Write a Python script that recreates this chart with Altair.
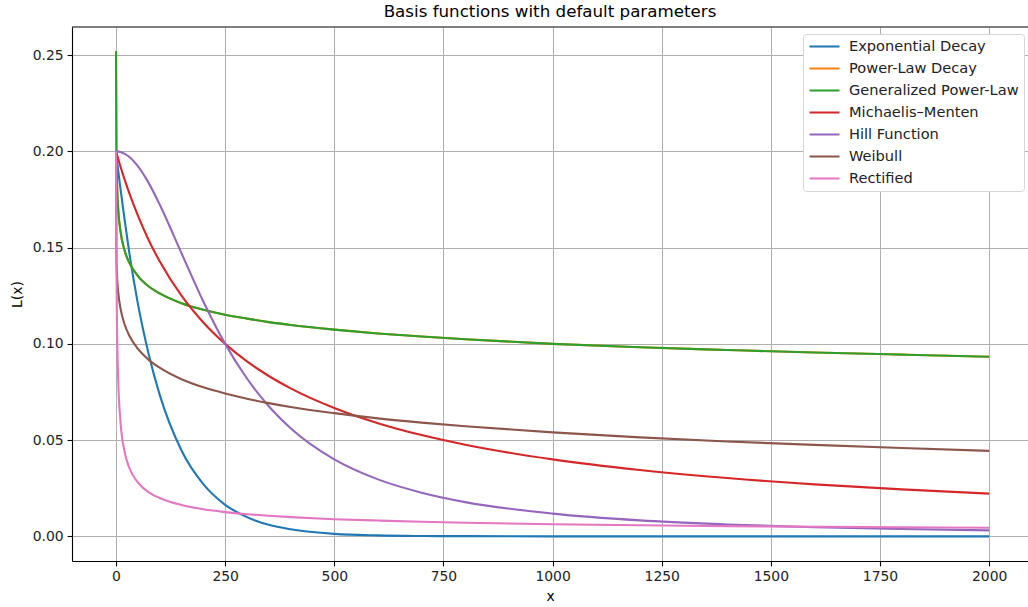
import altair as alt
import pandas as pd

x_vals = [0, 1, 2, 5, 10, 20, 30, 50, 75, 100, 150, 200, 250, 300, 350, 400,
          500, 600, 700, 800, 1000, 1200, 1400, 1600, 1800, 2000]

series_names = ["Exponential Decay", "Power-Law Decay", "Generalized Power-Law",
                "Michaelis\u2013Menten", "Hill Function", "Weibull", "Rectified"]
series_colors = ["#1f77b4", "#ff7f0e", "#2ca02c", "#d62728", "#9467bd", "#8c564b", "#e377c2"]

exp_decay = [0.2, 0.198, 0.196, 0.190, 0.181, 0.164, 0.148, 0.121, 0.0945, 0.0736,
             0.0446, 0.0271, 0.0164, 0.0100, 0.0060, 0.0037, 0.0013, 0.0005, 0.0002,
             0.0001, 0.0, 0.0, 0.0, 0.0, 0.0, 0.0]
power_law = [0.252, 0.2, 0.1866, 0.1702, 0.1589, 0.1482, 0.1424, 0.1353, 0.1298, 0.1262,
             0.1211, 0.1177, 0.1151, 0.1131, 0.1113, 0.1098, 0.1074, 0.1054, 0.1038,
             0.1024, 0.1, 0.0982, 0.0968, 0.0955, 0.0944, 0.0933]
gen_power_law = [0.252, 0.2, 0.1866, 0.1702, 0.1589, 0.1482, 0.1424, 0.1353, 0.1298, 0.1262,
                 0.1211, 0.1177, 0.1151, 0.1131, 0.1113, 0.1098, 0.1074, 0.1054, 0.1038,
                 0.1024, 0.1, 0.0982, 0.0968, 0.0955, 0.0944, 0.0933]
michaelis = [0.2, 0.1992, 0.1984, 0.1961, 0.1923, 0.1852, 0.1786, 0.1667, 0.1538, 0.1429,
             0.125, 0.1111, 0.1, 0.0909, 0.0833, 0.0769, 0.0667, 0.0588, 0.0526, 0.0476,
             0.04, 0.0345, 0.0303, 0.027, 0.0244, 0.0222]
hill = [0.2, 0.2, 0.2, 0.1999, 0.1997, 0.1987, 0.1972, 0.1923, 0.1835, 0.1724,
        0.1471, 0.122, 0.1, 0.082, 0.0676, 0.0562, 0.04, 0.0296, 0.0227, 0.0178,
        0.0118, 0.0083, 0.0062, 0.0047, 0.0038, 0.0031]
weibull = [0.2, 0.144, 0.137, 0.127, 0.1188, 0.1099, 0.1045, 0.0975, 0.0917, 0.0876,
           0.0816, 0.0774, 0.0742, 0.0715, 0.0692, 0.0672, 0.064, 0.0613, 0.0591, 0.0572,
           0.054, 0.0514, 0.0493, 0.0475, 0.0459, 0.0444]
rectified = [0.2, 0.1414, 0.1155, 0.0816, 0.0603, 0.0436, 0.0359, 0.028, 0.0229, 0.0199,
             0.0163, 0.0141, 0.0126, 0.0115, 0.0107, 0.01, 0.0089, 0.0082, 0.0076, 0.0071,
             0.0063, 0.0058, 0.0053, 0.005, 0.0047, 0.0045]

x_ticks = [0, 250, 500, 750, 1000, 1250, 1500, 1750, 2000]
y_ticks = [0.0, 0.05, 0.10, 0.15, 0.20, 0.25]

all_series = [exp_decay, power_law, gen_power_law, michaelis, hill, weibull, rectified]
rows = []
for i, (name, vals) in enumerate(zip(series_names, all_series)):
    for xv, yv in zip(x_vals, vals):
        rows.append({"x": xv, "y": yv, "series": name, "k": i})
df = pd.DataFrame(rows)

FONT = "DejaVu Sans"
W, H = 956, 534

lines = alt.Chart(df).mark_line(strokeWidth=2.1, interpolate="monotone").encode(
    x=alt.X("x:Q", title="x",
            scale=alt.Scale(domain=[-100.8, 2089], nice=False, zero=False),
            axis=alt.Axis(values=x_ticks, format="d", grid=True)),
    y=alt.Y("y:Q", title="L(x)",
            scale=alt.Scale(domain=[-0.0128, 0.2646], nice=False, zero=False),
            axis=alt.Axis(values=y_ticks, format=".2f", grid=True)),
    color=alt.Color("series:N",
                    scale=alt.Scale(domain=series_names, range=series_colors),
                    sort=series_names,
                    legend=alt.Legend(title=None, orient="none", legendX=731, legendY=7,
                                      symbolType="M-1,0H1", symbolSize=900,
                                      symbolStrokeWidth=2.1, labelFontSize=14.6,
                                      labelFont=FONT, labelColor="#222222",
                                      labelLimit=400, clipHeight=15,
                                      labelOffset=8, rowPadding=6, padding=5,
                                      strokeColor="#d6d6d6", fillColor="#ffffff",
                                      cornerRadius=3)),
    detail="k:O",
    order=alt.Order("x:Q"),
)

frame_top = alt.Chart(alt.Data(values=[{"a": 1}])).mark_rule(
    color="black", strokeWidth=1.1
).encode(x=alt.value(0), x2=alt.value(W), y=alt.value(0))

chart = alt.layer(lines, frame_top).properties(
    width=W, height=H,
    title=alt.Title("Basis functions with default parameters", fontSize=16.7,
                    font=FONT, fontWeight="normal", color="#000000",
                    anchor="middle", offset=6),
    autosize=alt.AutoSizeParams(type="none"),
    padding={"left": 72, "top": 27, "right": 0, "bottom": 46},
).configure_view(stroke=None).configure_axis(
    labelFont=FONT, titleFont=FONT, labelFontSize=13.9, titleFontSize=13.9,
    titleFontWeight="normal", labelColor="#222222", titleColor="#000000",
    domainColor="#000000", domainWidth=1.1, tickColor="#000000", tickWidth=1.1,
    tickSize=4.9, labelPadding=4, gridColor="#b0b0b0", gridWidth=1.0,
).configure_axisX(titlePadding=6).configure_axisY(titlePadding=8)

chart.save("out.html", embed_options={"renderer": "svg", "actions": False})
